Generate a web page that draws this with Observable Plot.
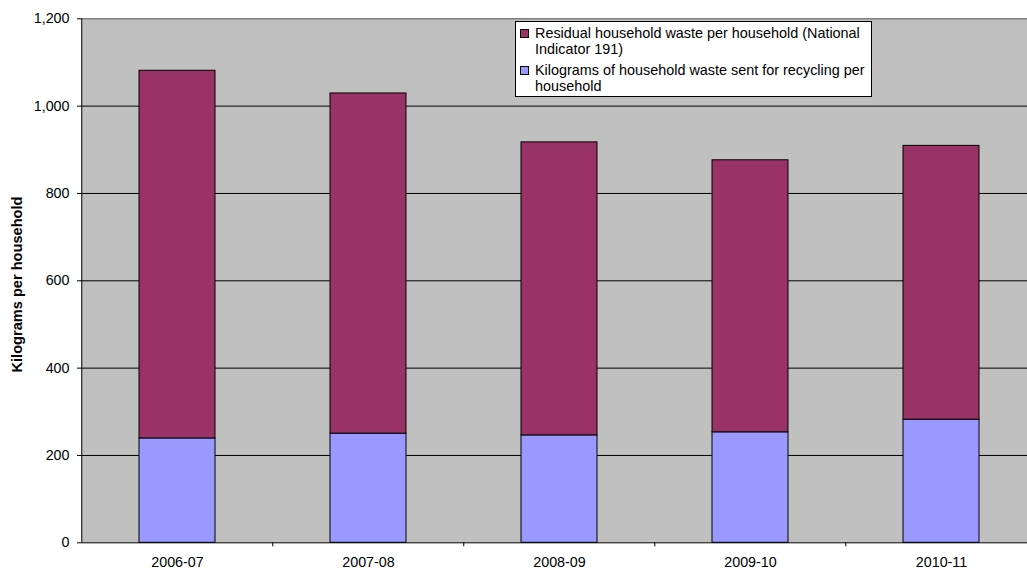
<!DOCTYPE html>
<html>
<head>
<meta charset="utf-8">
<script src="https://cdn.jsdelivr.net/npm/d3@7"></script>
<script src="https://cdn.jsdelivr.net/npm/@observablehq/plot@0.6"></script>
<style>
  html, body { margin: 0; padding: 0; background: white; overflow: hidden; }
  #wrap { position: relative; width: 1027px; height: 572px; font-family: "Liberation Sans", Arial, sans-serif; }
  #legend { position: absolute; left: 515px; top: 21px; width: 357px; height: 76px; box-sizing: border-box;
    border: 1px solid black; background: white; padding: 4px 0 0 4px; font-size: 14.4px; line-height: 15.5px; color: black; }
  .item { display: flex; align-items: flex-start; margin-bottom: 6px; }
  .sw { width: 9px; height: 9px; box-sizing: border-box; border: 1px solid black; margin-top: 3px; margin-right: 6px; flex: none; }
  .lab { width: 337px; }
</style>
</head>
<body>
<div id="wrap"></div>
<script>
const years = ["2006-07", "2007-08", "2008-09", "2009-10", "2010-11"];
const recycling = [239, 250, 246, 253, 282];
const residual = [842, 779, 671, 623, 627];
const seriesNames = [
  "Kilograms of household waste sent for recycling per household",
  "Residual household waste per household (National Indicator 191)"
];
const seriesColors = ["#9999FF", "#993366"];
const yTicks = [0, 200, 400, 600, 800, 1000, 1200];
const yLabel = "Kilograms per household";

const data = [];
years.forEach((y, i) => {
  data.push({year: y, series: seriesNames[0], value: recycling[i]});
  data.push({year: y, series: seriesNames[1], value: residual[i]});
});

const step = (1038 - 80.8) / years.length;

const chart = Plot.plot({
  width: 1027,
  height: 572,
  marginLeft: 81,
  marginRight: 0,
  marginTop: 18,
  marginBottom: 30,
  style: {background: "white", overflow: "hidden", fontFamily: "Liberation Sans, Arial, sans-serif", fontSize: "14px", color: "black"},
  x: {domain: years, range: [80.8, 1038], paddingInner: 0.6, paddingOuter: 0.3, axis: null},
  y: {domain: [0, 1200], range: [542.3, 18.3], axis: null},
  color: {domain: seriesNames, range: seriesColors},
  marks: [
    Plot.frame({fill: "#C0C0C0", stroke: null}),
    Plot.gridY(yTicks.slice(1, -1), {stroke: "black", strokeOpacity: 1, strokeWidth: 1}),
    Plot.ruleY([1200], {stroke: "#808080", strokeWidth: 1.5}),
    Plot.barY(data, Plot.stackY({x: "year", y: "value", fill: "series", stroke: "black", strokeWidth: 1, order: seriesNames})),
    Plot.ruleY([0], {stroke: "black", strokeWidth: 1}),
    Plot.ruleX([years[0]], {x: d => d, dx: -step / 2, y1: 0, y2: 1200, stroke: "black", strokeWidth: 1}),
    Plot.ruleX(years.slice(1), {x: d => d, dx: -step / 2, y1: 0, y2: 0, insetBottom: -4, stroke: "black", strokeWidth: 1}),
    Plot.axisY(yTicks, {tickSize: 4, tickPadding: 8, tickFormat: d3.format(","), fontSize: 14.3, stroke: "black", label: null}),
    Plot.axisX({tickSize: 0, tickPadding: 14, fontSize: 14.3, label: null}),
    Plot.text([yLabel], {text: d => d, frameAnchor: "left", textAnchor: "middle", rotate: -90, dx: -64, dy: 4, fontWeight: "bold", fontSize: 14.6, fill: "black"})
  ]
});

const wrap = document.getElementById("wrap");
wrap.appendChild(chart);

const legend = document.createElement("div");
legend.id = "legend";
[1, 0].forEach(i => {
  const item = document.createElement("div");
  item.className = "item";
  const sw = document.createElement("div");
  sw.className = "sw";
  sw.style.background = seriesColors[i];
  const lab = document.createElement("div");
  lab.className = "lab";
  lab.textContent = seriesNames[i];
  item.appendChild(sw);
  item.appendChild(lab);
  legend.appendChild(item);
});
wrap.appendChild(legend);
</script>
</body>
</html>
